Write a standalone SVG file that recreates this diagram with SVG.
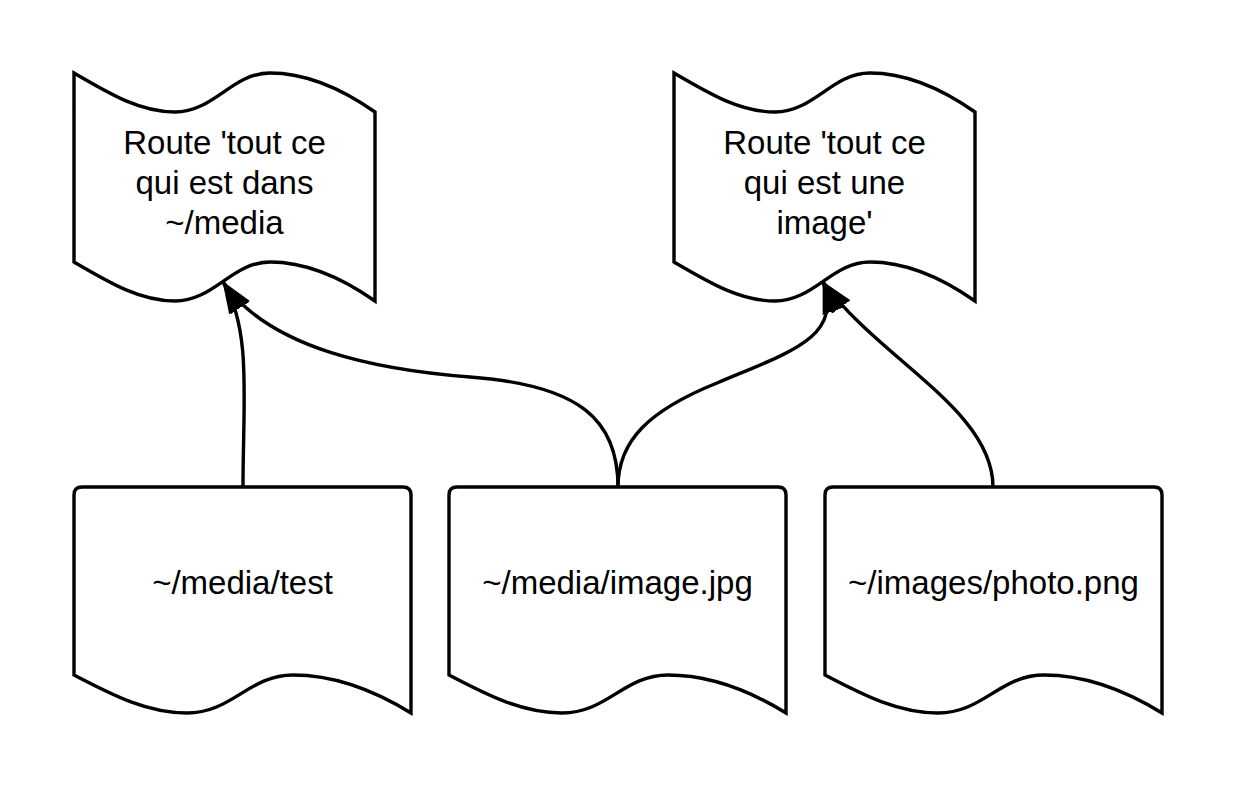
<svg xmlns="http://www.w3.org/2000/svg" width="1238" height="788" viewBox="0 0 1238 788">
  <style>
    .shape { fill: #ffffff; stroke: #000000; stroke-width: 3.4; stroke-linejoin: miter; }
    .label { font-family: "Liberation Sans", Arial, sans-serif; font-size: 33px; fill: #000000; text-anchor: middle; }
    .conn { fill: none; stroke: #000000; stroke-width: 3.4; }
  </style>
  <defs>
    <marker id="arrow" markerUnits="userSpaceOnUse" markerWidth="32" markerHeight="24" viewBox="0 0 28 20" refX="27" refY="10" orient="auto">
      <path d="M0,0 L28,10 L0,20 Z" fill="#000000"/>
    </marker>
    <path id="flag" d="M0,0 C36,21 66,39 101,39 C140,39 158,0 196,0 C235,0 271,18 301,39 L301,228 C271,207 235,189 196,189 C158,189 140,228 101,228 C66,228 36,210 0,189 Z"/>
    <path id="doc" d="M0,188 L0,8 Q0,0 8,0 L329,0 Q337,0 337,8 L337,226 C303,205 263,188 219,188 C175,188 158,226 113,226 C74,226 40,209 0,188 Z"/>
  </defs>
  <rect width="1238" height="788" fill="#ffffff"/>

  <g id="route-media">
    <use href="#flag" class="shape" transform="translate(74,73)"/>
    <text class="label" x="224.5" y="154">Route 'tout ce</text>
    <text class="label" x="224.5" y="194">qui est dans</text>
    <text class="label" x="224.5" y="234">~/media</text>
  </g>

  <g id="route-image">
    <use href="#flag" class="shape" transform="translate(674,73)"/>
    <text class="label" x="824.5" y="154">Route 'tout ce</text>
    <text class="label" x="824.5" y="194">qui est une</text>
    <text class="label" x="824.5" y="234">image'</text>
  </g>

  <g id="media-test">
    <use href="#doc" class="shape" transform="translate(74,487)"/>
    <text class="label" x="242.5" y="594">~/media/test</text>
  </g>

  <g id="media-image">
    <use href="#doc" class="shape" transform="translate(449,487)"/>
    <text class="label" x="617.5" y="594">~/media/image.jpg</text>
  </g>

  <g id="images-photo">
    <use href="#doc" class="shape" transform="translate(825,487)"/>
    <text class="label" x="993.5" y="594">~/images/photo.png</text>
  </g>

  <g id="connectors">
    <path class="conn" marker-end="url(#arrow)" d="M243,487 C243,400 252,330 223,282"/>
    <path class="conn" marker-end="url(#arrow)" d="M618,487 C618,420 580,385 470,377 C380,370 270,350 223,282"/>
    <path class="conn" marker-end="url(#arrow)" d="M618,487 C618,440 650,410 717,383 C790,352 843,338 823,282"/>
    <path class="conn" marker-end="url(#arrow)" d="M993,487 C993,410 880,360 823,282"/>
  </g>
</svg>
